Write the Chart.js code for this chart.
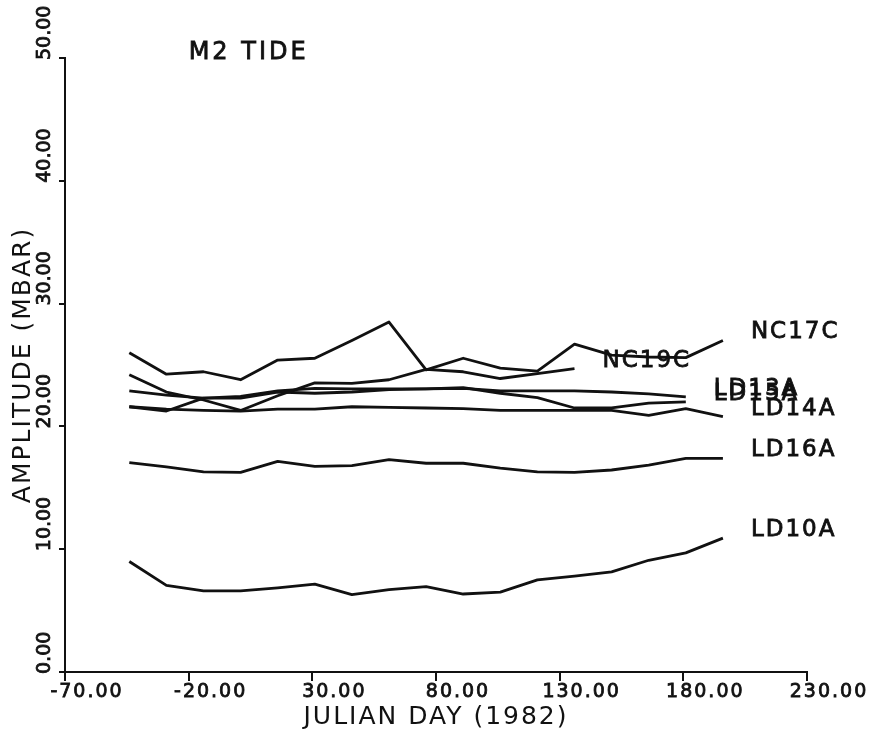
<!DOCTYPE html>
<html>
<head>
<meta charset="utf-8">
<title>M2 Tide</title>
<script src="https://cdn.jsdelivr.net/npm/chart.js@4.4.0/dist/chart.umd.min.js"></script>
<style>
  html, body { margin: 0; padding: 0; background: #fff; }
  canvas { display: block; }
</style>
</head>
<body>
<canvas id="tideChart" width="875" height="732"></canvas>
<script>
// ========= DATA =================== //
let days = [-44, -29, -14, 1, 16, 31, 46, 61, 76, 91, 106, 121, 136, 151, 166, 181, 196];

let nc17c = [26.0, 24.25, 24.45, 23.8, 25.4, 25.55, 27.0, 28.5, 24.6, 25.55, 24.75, 24.5, 26.7, 25.8, 25.65, 25.6, 27.0];
let nc19c = [24.2, 22.8, 22.15, 21.3, 22.5, 23.55, 23.5, 23.8, 24.65, 24.45, 23.9, 24.3, 24.7];
let ld13a = [22.9, 22.55, 22.3, 22.3, 22.8, 22.7, 22.8, 23.0, 23.05, 23.1, 22.9, 22.9, 22.9, 22.8, 22.65, 22.4];
let ld15a = [21.6, 21.25, 22.3, 22.45, 22.9, 23.1, 23.05, 23.05, 23.05, 23.15, 22.7, 22.35, 21.5, 21.5, 21.9, 22.0];
let ld14a = [21.6, 21.4, 21.3, 21.25, 21.4, 21.4, 21.6, 21.55, 21.5, 21.45, 21.3, 21.3, 21.3, 21.3, 20.9, 21.45, 20.8];
let ld16a = [17.05, 16.7, 16.3, 16.25, 17.15, 16.75, 16.8, 17.3, 17.0, 17.0, 16.6, 16.3, 16.25, 16.45, 16.85, 17.4, 17.4];
let ld10a = [9.0, 7.05, 6.6, 6.6, 6.85, 7.15, 6.3, 6.7, 6.95, 6.35, 6.5, 7.5, 7.8, 8.15, 9.1, 9.7, 10.9];

let seriesNames = ["NC17C", "NC19C", "LD13A", "LD15A", "LD14A", "LD16A", "LD10A"];
let seriesValues = [nc17c, nc19c, ld13a, ld15a, ld14a, ld16a, ld10a];

let xTicks = [-70, -20, 30, 80, 130, 180, 230];
let yTicks = [0, 10, 20, 30, 40, 50];

let FONT = "'DejaVu Sans', sans-serif";
let INK = "#111";

function toPoints(values) {
  return values.map((v, i) => ({ x: days[i], y: v }));
}

// draw text with a thin outline so it looks as heavy as the plotter lettering
function inkText(ctx, text, x, y) {
  ctx.fillText(text, x, y);
  ctx.strokeText(text, x, y);
}

// ============ TEXT PLUGIN (y labels, series names, title) ===========================//
let tideText = {
  id: "tideText",
  beforeUpdate(chart) {
    chart.ctx.letterSpacing = "2px";
  },
  beforeDraw(chart) {
    chart.ctx.letterSpacing = "2px";
  },
  afterDraw(chart) {
    let ctx = chart.ctx;
    let xs = chart.scales.x;
    let ys = chart.scales.y;
    ctx.save();
    ctx.fillStyle = INK;
    ctx.strokeStyle = INK;
    ctx.lineWidth = 0.8;

    // rotated y tick labels, reading upward from the tick
    ctx.font = "19px " + FONT;
    ctx.letterSpacing = "0px";
    yTicks.forEach((v) => {
      ctx.save();
      ctx.translate(ys.right - 20, ys.getPixelForValue(v) + 2);
      ctx.rotate(-Math.PI / 2);
      ctx.textAlign = "left";
      ctx.textBaseline = "middle";
      inkText(ctx, v.toFixed(2), 0, 0);
      ctx.restore();
    });

    // series names at the end of each line
    ctx.font = "23px " + FONT;
    ctx.letterSpacing = "2px";
    ctx.textAlign = "left";
    ctx.textBaseline = "middle";
    chart.data.datasets.forEach((ds, i) => {
      let meta = chart.getDatasetMeta(i);
      let last = meta.data[meta.data.length - 1];
      inkText(ctx, ds.label, last.x + 28, last.y - 8);
    });

    // plot title
    ctx.font = "24px " + FONT;
    ctx.letterSpacing = "3px";
    ctx.textBaseline = "alphabetic";
    inkText(ctx, "M2 TIDE", xs.getPixelForValue(-20), ys.getPixelForValue(50) + 1);
    ctx.restore();
  },
};

// ================= TIDE CHART ========================//
let tide = document.getElementById("tideChart").getContext("2d");

let tideChart = new Chart(tide, {
  type: "line",
  data: {
    datasets: seriesNames.map((name, i) => ({
      label: name,
      data: toPoints(seriesValues[i]),
      borderColor: INK,
      borderWidth: 2.8,
      borderJoinStyle: "round",
      pointRadius: 0,
      tension: 0,
      fill: false,
    })),
  },
  options: {
    responsive: false,
    animation: false,
    events: [],
    layout: {
      padding: { top: 58, right: 68, left: 0, bottom: 0 },
    },
    plugins: {
      legend: { display: false },
      tooltip: { enabled: false },
    },
    scales: {
      x: {
        type: "linear",
        min: -70,
        max: 230,
        afterBuildTicks: (scale) => {
          scale.ticks = xTicks.map((v) => ({ value: v }));
        },
        afterFit: (scale) => {
          scale.height = 60;
        },
        border: { display: true, color: INK, width: 2 },
        grid: {
          drawOnChartArea: false,
          drawTicks: true,
          tickLength: 9,
          color: INK,
          lineWidth: 2,
        },
        ticks: {
          autoSkip: false,
          maxRotation: 0,
          padding: 0,
          labelOffset: 22,
          color: INK,
          textStrokeColor: INK,
          textStrokeWidth: 0.8,
          font: { family: FONT, size: 19 },
          callback: (v) => Number(v).toFixed(2),
        },
        title: {
          display: true,
          text: "JULIAN DAY (1982)",
          color: INK,
          font: { family: FONT, size: 25 },
          padding: { top: 0, bottom: 0 },
        },
      },
      y: {
        type: "linear",
        min: 0,
        max: 50,
        afterBuildTicks: (scale) => {
          scale.ticks = yTicks.map((v) => ({ value: v }));
        },
        afterFit: (scale) => {
          scale.width = 65;
        },
        border: { display: true, color: INK, width: 2 },
        grid: {
          drawOnChartArea: false,
          drawTicks: true,
          tickLength: 6,
          color: INK,
          lineWidth: 2,
        },
        ticks: { display: false },
        title: {
          display: true,
          text: "AMPLITUDE (MBAR)",
          color: INK,
          font: { family: FONT, size: 25 },
          padding: { top: 8, bottom: 0 },
        },
      },
    },
  },
  plugins: [tideText],
});
</script>
</body>
</html>
